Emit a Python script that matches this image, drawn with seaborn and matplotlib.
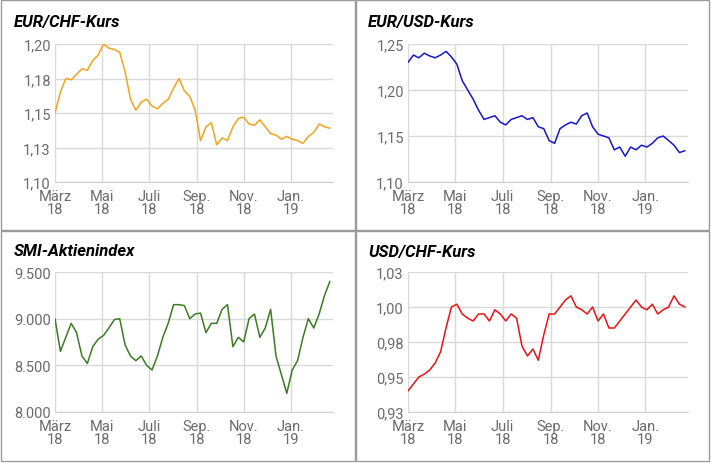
import numpy as np
import pandas as pd
import matplotlib
matplotlib.use("Agg")
import matplotlib.pyplot as plt
import matplotlib.dates as mdates
from matplotlib.ticker import FuncFormatter
import seaborn as sns

sns.set_style("white")
plt.rcParams['font.family'] = ['Roboto', 'DejaVu Sans']

eurchf = [1.150, 1.165, 1.175, 1.174, 1.178, 1.182, 1.181, 1.188, 1.192, 1.200, 1.197, 1.196, 1.194, 1.180,
          1.160, 1.152, 1.158, 1.160, 1.155, 1.153, 1.157, 1.160, 1.168, 1.175, 1.166, 1.162, 1.152, 1.130,
          1.140, 1.143, 1.127, 1.132, 1.130, 1.140, 1.146, 1.147, 1.142, 1.141, 1.145, 1.140, 1.135, 1.134,
          1.131, 1.133, 1.131, 1.130, 1.128, 1.133, 1.136, 1.142, 1.140, 1.139]
eurusd = [1.230, 1.238, 1.235, 1.240, 1.237, 1.235, 1.238, 1.242, 1.236, 1.228, 1.210, 1.200, 1.190, 1.178,
          1.168, 1.170, 1.172, 1.165, 1.162, 1.168, 1.170, 1.172, 1.168, 1.170, 1.160, 1.158, 1.145, 1.142,
          1.158, 1.162, 1.165, 1.163, 1.172, 1.175, 1.160, 1.152, 1.150, 1.148, 1.135, 1.138, 1.128, 1.138,
          1.135, 1.140, 1.138, 1.142, 1.148, 1.150, 1.145, 1.140, 1.132, 1.134]
smi = [9000, 8650, 8800, 8950, 8850, 8600, 8520, 8700, 8780, 8820, 8900, 8990, 9000, 8720,
       8600, 8550, 8600, 8500, 8450, 8600, 8800, 8950, 9150, 9150, 9140, 9000, 9050, 9060,
       8850, 8950, 8950, 9100, 9150, 8700, 8800, 8750, 9000, 9050, 8800, 8900, 9100, 8600,
       8400, 8200, 8450, 8550, 8800, 9000, 8900, 9050, 9250, 9400]
usdchf = [0.940, 0.945, 0.950, 0.952, 0.955, 0.960, 0.968, 0.985, 1.000, 1.002, 0.995, 0.992, 0.990, 0.995,
          0.995, 0.990, 0.998, 0.995, 0.990, 0.995, 0.992, 0.972, 0.965, 0.970, 0.962, 0.980, 0.995, 0.995,
          1.000, 1.005, 1.008, 1.000, 0.998, 0.995, 1.000, 0.990, 0.995, 0.985, 0.985, 0.990, 0.995, 1.000,
          1.005, 1.000, 0.998, 1.002, 0.995, 0.998, 1.000, 1.008, 1.002, 1.000]

dates = pd.date_range("2018-03-01", periods=52, freq="7D")

panels = [
    ("EUR/CHF-Kurs", eurchf, "#f7a21b", (1.10, 1.20), [1.10, 1.125, 1.15, 1.175, 1.20], 2),
    ("EUR/USD-Kurs", eurusd, "#1515d6", (1.10, 1.25), [1.10, 1.15, 1.20, 1.25], 2),
    ("SMI-Aktienindex", smi, "#3a7d22", (8000, 9500), [8000, 8500, 9000, 9500], 0),
    ("USD/CHF-Kurs", usdchf, "#ee1111", (0.925, 1.025), [0.925, 0.95, 0.975, 1.0, 1.025], 2),
]

W, H = 711, 464
fig = plt.figure(figsize=(W / 100, H / 100), dpi=100)
for (x0, y0, x1, y1) in [(1, 1, 355, 231), (356, 1, 709, 231), (1, 232, 355, 462), (356, 232, 709, 462)]:
    fig.patches.append(plt.Rectangle((x0 / W, 1 - y1 / H), (x1 - x0) / W, (y1 - y0) / H,
                                     transform=fig.transFigure, fill=False, ec="#9a9a9a", lw=1))

axpos = [(55, 45, 333, 183), (408, 45, 688, 183), (55, 273, 333, 413), (408, 273, 688, 413)]
titlepos = [(14, 22), (368, 22), (14, 252), (368, 252)]

def fmt_factory(dec):
    def f(v, pos):
        if dec == 0:
            return f"{int(round(v)):,}".replace(",", ".")
        return f"{round(v + 1e-9, dec):.{dec}f}".replace(".", ",")
    return f

for (title, vals, col, ylim, yt, dec), (l, t, r, b), (tx, ty) in zip(panels, axpos, titlepos):
    ax = fig.add_axes([l / W, 1 - b / H, (r - l) / W, (b - t) / H])
    df = pd.DataFrame({"date": dates, "v": vals})
    sns.lineplot(data=df, x="date", y="v", ax=ax, color=col, lw=1.1)
    ax.set_xlim(pd.Timestamp("2018-03-01"), pd.Timestamp("2019-02-25"))
    ax.set_ylim(*ylim)
    ax.set_yticks(yt)
    ax.yaxis.set_major_formatter(FuncFormatter(fmt_factory(dec)))
    xt = pd.to_datetime(["2018-03-01", "2018-05-01", "2018-07-01", "2018-09-01", "2018-11-01", "2019-01-01"])
    ax.set_xticks(xt)
    ax.set_xticklabels(["März\n18", "Mai\n18", "Juli\n18", "Sep.\n18", "Nov.\n18", "Jan.\n19"])
    ax.grid(True, color="#d9d9d9", lw=1)
    for s in ["top", "right", "left"]:
        ax.spines[s].set_visible(False)
    ax.spines["bottom"].set_color("#d0d0d0")
    ax.tick_params(length=0, labelsize=10.5, colors="#6b6b6b")
    ax.tick_params(axis="x", pad=5)
    ax.tick_params(axis="y", pad=3)
    for lab in ax.get_xticklabels():
        lab.set_linespacing(0.95)
    ax.set_xlabel("")
    ax.set_ylabel("")
    fig.text(tx / W, 1 - ty / H, title, fontsize=12, fontweight="bold", fontstyle="italic",
             color="black", va="center", ha="left")

fig.savefig("out.png", dpi=100)
